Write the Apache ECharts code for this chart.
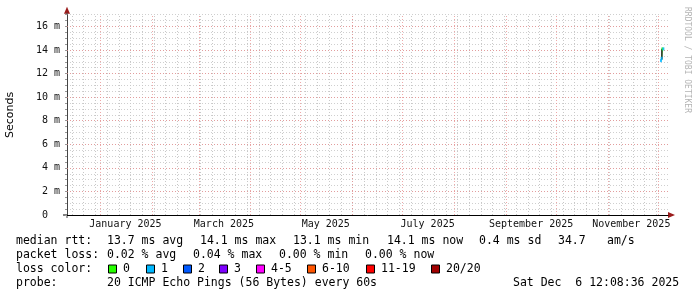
<!DOCTYPE html>
<html><head><meta charset="utf-8">
<script src="https://cdn.jsdelivr.net/npm/echarts@6/dist/echarts.min.js"></script>
<style>html,body{margin:0;padding:0;background:#fff}#c{width:697px;height:297px}</style>
</head><body><div id="c"></div>
<script>
// ---------- data ----------
const startTime = '2024-12-12T00:00:00';
const endTime = '2025-12-07T00:00:00';
const yMax = 17; // milliseconds
const yLabelValues = [0, 2, 4, 6, 8, 10, 12, 14, 16];
const monthLabelText = ['January 2025', 'March 2025', 'May 2025', 'July 2025', 'September 2025', 'November 2025'];
const monthLabelAt = ['2025-01-16T00:00:00', '2025-03-16T00:00:00', '2025-05-16T00:00:00', '2025-07-16T00:00:00', '2025-09-16T00:00:00', '2025-11-15T00:00:00'];
const monthGridAt = ['2025-01-01', '2025-02-01', '2025-03-01', '2025-04-01', '2025-05-01', '2025-06-01', '2025-07-01', '2025-08-01', '2025-09-01', '2025-10-01', '2025-11-01', '2025-12-01'];
const firstWeekGrid = '2024-12-15'; // Sundays, every 7 days

const medianTimes = ['2025-12-02T19:00:00', '2025-12-03T04:00:00', '2025-12-03T16:00:00', '2025-12-04T06:00:00'];
const medianValues = [13.1, 13.3, 14.1, 14.1];
const medianLoss = [1, 1, 0, 1];
const smokeTime = '2025-12-03T08:00:00';
const smokeLow = 13.2;
const smokeHigh = 14.1;

const lossLabels = ['0', '1', '2', '3', '4-5', '6-10', '11-19', '20/20'];
const lossColors = ['#26ff00', '#00b8ff', '#0059ff', '#7e00ff', '#ff00ff', '#ff5500', '#ff0000', '#a10000'];
const lossUpper = [0, 1, 2, 3, 5, 10, 19, 20];

const rttRow = ['median rtt:', '13.7 ms avg', '14.1 ms max', '13.1 ms min', '14.1 ms now', '0.4 ms sd', '34.7', 'am/s'];
const lossRow = ['packet loss:', '0.02 % avg', '0.04 % max', '0.00 % min', '0.00 % now'];
const lossColorTitle = 'loss color:';
const probeRow = ['probe:', '20 ICMP Echo Pings (56 Bytes) every 60s', 'Sat Dec  6 12:08:36 2025'];
const yAxisName = 'Seconds';
const watermark = 'RRDTOOL / TOBI OETIKER';

// ---------- layout ----------
const rttX = [16, 107, 200, 293, 387, 479, 558, 607];
const lossX = [16, 107, 193, 279, 365];
const boxX = [108, 146, 183, 219, 256, 307, 366, 431];
const probeX = [16, 107, 513];
const rowY = [241.5, 255.5, 269.5, 283];
const legendFont = '11.5px "DejaVu Sans Mono"';

const ms = s => new Date(s).getTime();
const t0 = ms(startTime), t1 = ms(endTime);
const labelMap = {};
monthLabelAt.forEach((s, i) => { labelMap[ms(s)] = monthLabelText[i]; });

function lossIndex(l) { for (let i = 0; i < lossUpper.length; i++) if (l <= lossUpper[i]) return i; return lossUpper.length - 1; }

const weekLines = [];
for (let t = ms(firstWeekGrid + 'T00:00:00'); t < t1; t += 7 * 86400000) weekLines.push(t);

const series = [];
series.push({
  type: 'line', data: [], silent: true, z: 1,
  markLine: {
    silent: true, symbol: 'none', animation: false, label: {show: false},
    lineStyle: {color: '#c8c8c8', type: [1, 2], width: 1},
    data: weekLines.map(t => ({xAxis: t}))
  }
});
series.push({
  type: 'line', data: [], silent: true, z: 2,
  markLine: {
    silent: true, symbol: 'none', animation: false, label: {show: false},
    lineStyle: {color: 'rgba(232,140,140,0.75)', type: [1, 2], width: 1},
    data: monthGridAt.map(s => ({xAxis: ms(s + 'T00:00:00')}))
      .concat(yLabelValues.filter(v => v > 0).map(v => ({yAxis: v})))
  }
});
// median segments coloured by loss
for (let i = 1; i < medianTimes.length; i++) {
  series.push({
    type: 'line', z: 5, symbol: 'none', silent: true, animation: false,
    lineStyle: {color: lossColors[lossIndex(medianLoss[i])], width: 1},
    data: [[ms(medianTimes[i - 1]), medianValues[i - 1]], [ms(medianTimes[i]), medianValues[i]]]
  });
}
// smoke
series.push({
  type: 'line', z: 6, symbol: 'none', silent: true, animation: false,
  lineStyle: {color: '#2a2a2a', width: 1.5},
  data: [[ms(smokeTime), smokeLow], [ms(smokeTime), smokeHigh]]
});
// median points
series.push({
  type: 'scatter', z: 7, silent: true, animation: false, symbol: 'rect', symbolSize: [2, 3],
  data: medianTimes.map((s, i) => ({value: [ms(s), medianValues[i]], itemStyle: {color: lossColors[lossIndex(medianLoss[i])]}}))
});

const graphics = [];
function txt(x, y, s) {
  graphics.push({type: 'text', x: x, y: y, silent: true,
    style: {text: s, font: legendFont, fill: '#000', verticalAlign: 'middle'}});
}
rttRow.forEach((s, i) => txt(rttX[i], rowY[0], s));
lossRow.forEach((s, i) => txt(lossX[i], rowY[1], s));
txt(16, rowY[2], lossColorTitle);
lossLabels.forEach((s, i) => {
  graphics.push({type: 'rect', silent: true, shape: {x: boxX[i] + 0.5, y: rowY[2] - 4.5, width: 8, height: 8},
    style: {fill: lossColors[i], stroke: '#000', lineWidth: 1}});
  txt(boxX[i] + 15, rowY[2], s);
});
probeRow.forEach((s, i) => txt(probeX[i], rowY[3], s));
graphics.push({type: 'text', x: 687, y: 60, rotation: -Math.PI / 2, silent: true,
  style: {text: watermark, font: '8px "DejaVu Sans Mono"', fill: '#b4b4b4', align: 'center', verticalAlign: 'middle'}});

const chart = echarts.init(document.getElementById('c'), null, {renderer: 'canvas'});
const option = {
  animation: false,
  backgroundColor: '#fff',
  grid: {left: 67, width: 601, top: 14.7, height: 200.3, containLabel: false, outerBoundsMode: 'none'},
  xAxis: {
    type: 'value', min: t0, max: t1,
    axisLine: {show: true, onZero: false, lineStyle: {color: '#000', width: 1}},
    axisTick: {show: false},
    splitLine: {show: false},
    axisLabel: {
      customValues: monthLabelAt.map(ms),
      formatter: v => labelMap[v] || '',
      fontFamily: 'DejaVu Sans Mono', fontSize: 10, color: '#111', margin: 4, hideOverlap: false
    }
  },
  yAxis: {
    type: 'value', min: 0, max: yMax, interval: 0.5,
    name: yAxisName, nameLocation: 'middle', nameRotate: 90, nameGap: 51,
    nameTextStyle: {fontFamily: 'DejaVu Sans', fontSize: 11, color: '#000'},
    axisLine: {show: true, lineStyle: {color: '#444', width: 1}},
    axisTick: {show: true, length: 2, lineStyle: {color: '#999'}},
    splitLine: {show: true, lineStyle: {color: '#cfcfcf', type: [1, 2], width: 1}},
    axisLabel: {
      formatter: v => (yLabelValues.indexOf(v) >= 0 ? (v === 0 ? '0  ' : v + ' m') : ''),
      fontFamily: 'DejaVu Sans Mono', fontSize: 10, color: '#111', margin: 7
    }
  },
  series: series,
  graphic: graphics
};
chart.setOption(option);

// axis arrows and axis overhangs, positioned through the axes
const topPt = chart.convertToPixel({gridIndex: 0}, [t0, yMax]);
const orig = chart.convertToPixel({gridIndex: 0}, [t0, 0]);
const endPt = chart.convertToPixel({gridIndex: 0}, [t1, 0]);
graphics.push({type: 'polygon', silent: true, shape: {points: [[topPt[0] - 3, topPt[1] - 1], [topPt[0] + 3, topPt[1] - 1], [topPt[0], topPt[1] - 8]]}, style: {fill: '#9b1c1c'}});
graphics.push({type: 'line', silent: true, shape: {x1: topPt[0], y1: topPt[1], x2: topPt[0], y2: topPt[1] - 2}, style: {stroke: '#444'}});
graphics.push({type: 'line', silent: true, shape: {x1: orig[0], y1: orig[1], x2: orig[0], y2: orig[1] + 3}, style: {stroke: '#444'}});
graphics.push({type: 'line', silent: true, shape: {x1: orig[0] - 4, y1: orig[1], x2: orig[0], y2: orig[1]}, style: {stroke: '#000'}});
graphics.push({type: 'polygon', silent: true, shape: {points: [[endPt[0], endPt[1] - 3], [endPt[0], endPt[1] + 3], [endPt[0] + 7, endPt[1]]]}, style: {fill: '#9b1c1c'}});
chart.setOption({graphic: graphics});
</script></body></html>
